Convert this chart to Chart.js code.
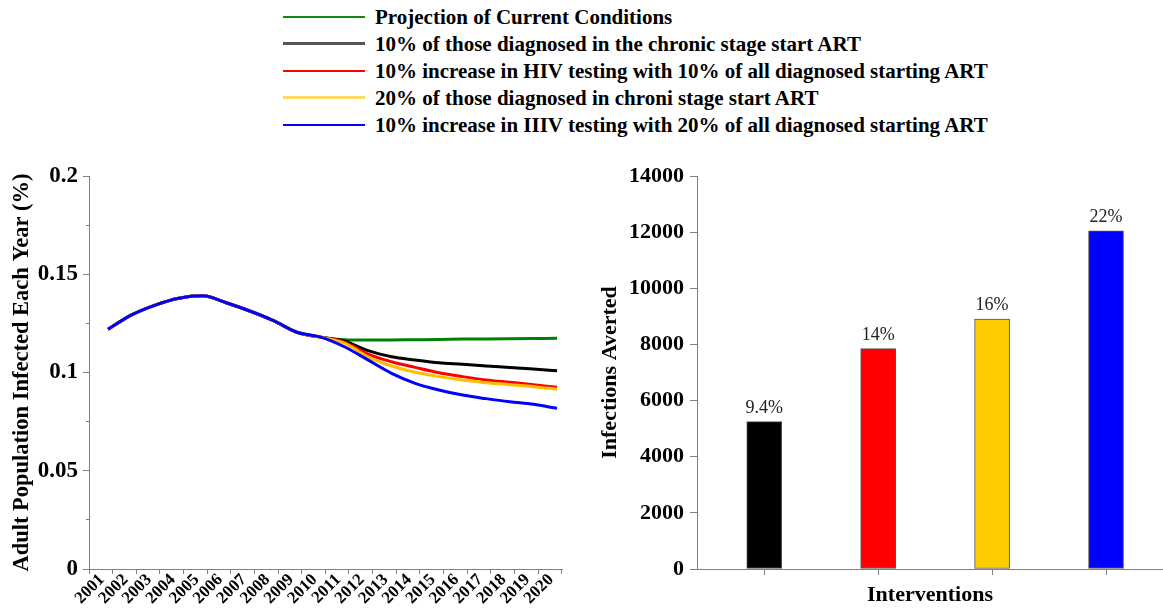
<!DOCTYPE html>
<html>
<head>
<meta charset="utf-8">
<script src="https://cdn.jsdelivr.net/npm/chart.js@4.4.1/dist/chart.umd.min.js"></script>
<style>
    body { margin: 0; background: #fff; width: 1163px; height: 609px; overflow: hidden; position: relative; font-family: "Liberation Serif", "Times New Roman", serif; }
    canvas { position: absolute; }
    #lineChart { left: 0; top: 140px; }
    #barChart { left: 590px; top: 140px; }
    .leg { position: absolute; left: 283px; height: 27px; white-space: nowrap; }
    .leg .sw { position: absolute; left: 0; width: 82px; top: 50%; }
    .leg .tx { position: absolute; left: 92px; top: 50%; transform: translateY(-50%); font-weight: bold; font-size: 21px; color: #000; }
</style>
</head>
<body>
<div id="legend"></div>
<canvas id="lineChart" width="575" height="469"></canvas>
<canvas id="barChart" width="573" height="469"></canvas>
<script>
var years = [2001, 2002, 2003, 2004, 2005, 2006, 2007, 2008, 2009, 2010,
             2011, 2012, 2013, 2014, 2015, 2016, 2017, 2018, 2019, 2020];

var seriesNames = [
    "Projection of Current Conditions",
    "10% of those diagnosed in the chronic stage start ART",
    "10% increase in HIV testing with 10% of all diagnosed starting ART",
    "20% of those diagnosed in chroni stage start ART",
    "10% increase in IIIV testing with 20% of all diagnosed starting ART"
];

var currentConditions = [0.1220, 0.1293, 0.1343, 0.1378, 0.1390, 0.1355, 0.1313, 0.1264, 0.1205, 0.1180,
                         0.1167, 0.1165, 0.1166, 0.1167, 0.1168, 0.1170, 0.1171, 0.1172, 0.1173, 0.1174];
var chronic10 = [0.1220, 0.1293, 0.1343, 0.1378, 0.1390, 0.1355, 0.1313, 0.1264, 0.1205, 0.1180,
                 0.1160, 0.1111, 0.1080, 0.1064, 0.1050, 0.1042, 0.1033, 0.1026, 0.1018, 0.1009];
var testing10 = [0.1220, 0.1293, 0.1343, 0.1378, 0.1390, 0.1355, 0.1313, 0.1264, 0.1205, 0.1180,
                 0.1155, 0.1094, 0.1055, 0.1026, 0.0999, 0.0979, 0.0962, 0.0950, 0.0938, 0.0925];
var chronic20 = [0.1220, 0.1293, 0.1343, 0.1378, 0.1390, 0.1355, 0.1313, 0.1264, 0.1205, 0.1180,
                 0.1149, 0.1080, 0.1033, 0.1001, 0.0979, 0.0962, 0.0948, 0.0938, 0.0928, 0.0915];
var testing20 = [0.1220, 0.1293, 0.1343, 0.1378, 0.1390, 0.1355, 0.1313, 0.1264, 0.1205, 0.1180,
                 0.1131, 0.1064, 0.0996, 0.0945, 0.0911, 0.0885, 0.0867, 0.0851, 0.0838, 0.0818];

var yTicksLeft = [0, 0.025, 0.05, 0.075, 0.1, 0.125, 0.15, 0.175, 0.2];

var interventions = [1, 2, 3, 4];
var infectionsAverted = [5250, 7850, 8900, 12050];
var avertedPercent = ["9.4%", "14%", "16%", "22%"];

var lineColors = ["#008000", "#000000", "#ff0000", "#ffc000", "#0000ff"];
var legendColors = ["#118a11", "#555555", "#ff0000", "#ffd966", "#0000ff"];
var legendWidths = [2, 3, 2, 3, 2];
var barColors = ["#000000", "#ff0000", "#ffcc00", "#0000ff"];

var serif = "'Liberation Serif', 'Times New Roman', serif";
var axisGray = "#808080";

// legend above both charts
var $legend = document.getElementById('legend');
seriesNames.forEach(function (name, i) {
    var row = document.createElement('div');
    row.className = 'leg';
    row.style.top = (3 + i * 27) + 'px';
    row.style.width = '760px';
    var sw = document.createElement('div');
    sw.className = 'sw';
    sw.style.borderTop = legendWidths[i] + 'px solid ' + legendColors[i];
    sw.style.marginTop = (-legendWidths[i] / 2) + 'px';
    var tx = document.createElement('div');
    tx.className = 'tx';
    tx.textContent = name;
    row.appendChild(sw);
    row.appendChild(tx);
    $legend.appendChild(row);
});

function toPoints(values) {
    return values.map(function (v, i) { return { x: years[i], y: v }; });
}

var allSeries = [currentConditions, chronic10, testing10, chronic20, testing20];
var drawOrder = [4, 3, 2, 1, 0];

var xMin = 2000.196;
var xMax = 2020.21;

var lineCtx = document.getElementById('lineChart').getContext('2d');
var lineChart = new Chart(lineCtx, {
    type: 'line',
    data: {
        datasets: allSeries.map(function (vals, i) {
            return {
                label: seriesNames[i],
                data: toPoints(vals),
                borderColor: lineColors[i],
                backgroundColor: lineColors[i],
                borderWidth: 3,
                pointRadius: 0,
                cubicInterpolationMode: 'monotone',
                order: drawOrder[i]
            };
        })
    },
    options: {
        responsive: false,
        devicePixelRatio: 1,
        animation: false,
        layout: { padding: { top: 36, right: 13, left: 0, bottom: 0 } },
        plugins: { legend: { display: false }, tooltip: { enabled: false } },
        scales: {
            x: {
                type: 'linear',
                min: xMin,
                max: xMax,
                afterBuildTicks: function (axis) {
                    var t = [];
                    for (var k = 0; k <= years.length; k++) t.push({ value: xMin + k });
                    axis.ticks = t;
                },
                afterFit: function (axis) { axis.height = 40; },
                border: { color: axisGray, width: 1 },
                grid: { drawOnChartArea: false, tickLength: 5, color: axisGray },
                ticks: {
                    autoSkip: false,
                    minRotation: 45,
                    maxRotation: 45,
                    padding: -4,
                    labelOffset: 13,
                    color: '#000',
                    font: { family: serif, weight: 'bold', size: 17 },
                    callback: function (value, index) {
                        return index < years.length ? String(years[index]) : '';
                    }
                }
            },
            y: {
                min: 0,
                max: 0.2,
                afterBuildTicks: function (axis) {
                    axis.ticks = yTicksLeft.map(function (v) { return { value: v }; });
                },
                afterFit: function (axis) { axis.width = 89; },
                border: { color: axisGray, width: 1 },
                grid: {
                    drawOnChartArea: false,
                    tickLength: 6,
                    color: axisGray,
                    tickBorderDash: function (c) {
                        return (c.tick && Math.round(c.tick.value * 1000) % 50 !== 0) ? [3, 3] : [];
                    },
                    tickBorderDashOffset: function (c) {
                        return (c.tick && Math.round(c.tick.value * 1000) % 50 !== 0) ? 3 : 0;
                    }
                },
                ticks: {
                    padding: 5,
                    color: '#000',
                    font: { family: serif, weight: 'bold', size: 23 },
                    callback: function (value) {
                        if (Math.round(value * 1000) % 50 !== 0) return '';
                        return String(Number(value.toFixed(3)));
                    }
                },
                title: {
                    display: true,
                    text: 'Adult Population Infected Each Year (%)',
                    color: '#000',
                    font: { family: serif, weight: 'bold', size: 22.5 },
                    padding: { top: 9, bottom: 0 }
                }
            }
        }
    }
});

var barLabelsPlugin = {
    id: 'barLabels',
    afterDatasetsDraw: function (chart) {
        var ctx = chart.ctx;
        var meta = chart.getDatasetMeta(0);
        ctx.save();
        ctx.font = '18px ' + serif;
        ctx.fillStyle = '#222';
        ctx.textAlign = 'center';
        ctx.textBaseline = 'alphabetic';
        meta.data.forEach(function (bar, i) {
            ctx.fillText(avertedPercent[i], bar.x, bar.y - 9);
        });
        ctx.restore();
    }
};

var barCtx = document.getElementById('barChart').getContext('2d');
var barChart = new Chart(barCtx, {
    type: 'bar',
    data: {
        datasets: [{
            label: 'Infections Averted',
            data: interventions.map(function (x, i) { return { x: x, y: infectionsAverted[i] }; }),
            backgroundColor: barColors,
            borderColor: '#555',
            borderWidth: 1,
            borderSkipped: false,
            barThickness: 35
        }]
    },
    options: {
        responsive: false,
        devicePixelRatio: 1,
        animation: false,
        layout: { padding: { top: 36, right: 0, left: 0, bottom: 0 } },
        plugins: { legend: { display: false }, tooltip: { enabled: false } },
        scales: {
            x: {
                type: 'linear',
                min: 0.41,
                max: 4.5,
                offset: false,
                afterBuildTicks: function (axis) {
                    axis.ticks = interventions.map(function (v) { return { value: v }; });
                },
                afterFit: function (axis) { axis.height = 40; },
                border: { color: axisGray, width: 1 },
                grid: { drawOnChartArea: false, offset: false, tickLength: 6, color: axisGray },
                ticks: { callback: function () { return ''; } },
                title: {
                    display: true,
                    text: 'Interventions',
                    color: '#000',
                    font: { family: serif, weight: 'bold', size: 22 },
                    padding: { top: 0, bottom: 0 }
                }
            },
            y: {
                min: 0,
                max: 14000,
                ticks: {
                    stepSize: 2000,
                    padding: 6,
                    color: '#000',
                    font: { family: serif, weight: 'bold', size: 22 },
                    callback: function (value) { return String(value); }
                },
                afterFit: function (axis) { axis.width = 107; },
                border: { color: axisGray, width: 1 },
                grid: { drawOnChartArea: false, tickLength: 7, color: axisGray },
                title: {
                    display: true,
                    text: 'Infections Averted',
                    color: '#000',
                    font: { family: serif, weight: 'bold', size: 22 },
                    padding: { top: 7, bottom: 0 }
                }
            }
        }
    },
    plugins: [barLabelsPlugin]
});
</script>
</body>
</html>
